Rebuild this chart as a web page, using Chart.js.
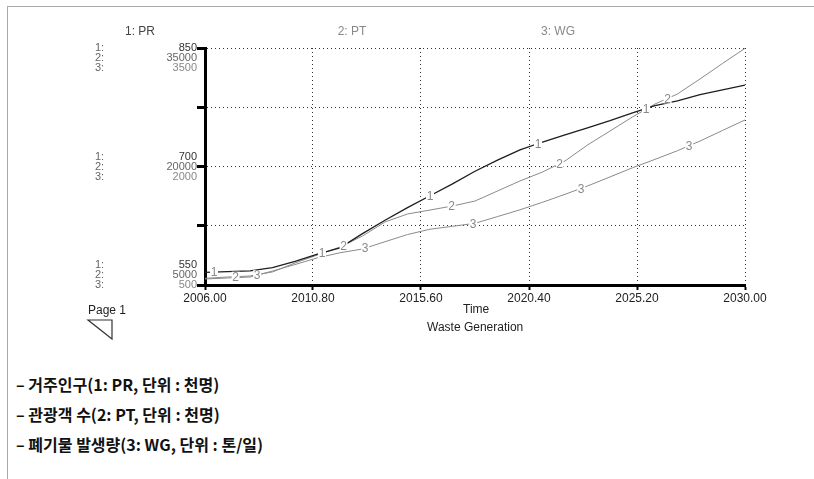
<!DOCTYPE html>
<html>
<head>
<meta charset="utf-8">
<script src="https://cdn.jsdelivr.net/npm/chart.js@4.4.1/dist/chart.umd.min.js"></script>
<style>
  body { margin: 0; background: #fff; width: 814px; height: 479px; position: relative; overflow: hidden; font-family: "Liberation Sans", Arial, sans-serif; }
  .frame { position: absolute; left: 7px; top: 6px; right: 0; bottom: 0; border-left: 1px solid #aaa; border-top: 1px solid #aaa; }
  .txt { position: absolute; font-size: 12px; white-space: nowrap; }
  .head { top: 24px; transform: translateX(-50%); }
  .legend { position: absolute; left: 16px; font-family: "Noto Sans CJK KR", sans-serif; font-weight: bold; font-size: 16px; color: #111; white-space: nowrap; }
  #wrap { position: absolute; left: 0; top: 0; width: 814px; height: 340px; }
</style>
</head>
<body>
<div class="frame"></div>
<div id="wrap"><canvas id="chart"></canvas></div>

<div class="txt head" style="left:140px;color:#444">1: PR</div>
<div class="txt head" style="left:352px;color:#888">2: PT</div>
<div class="txt head" style="left:558px;color:#888">3: WG</div>

<div class="txt" style="left:463px;top:302px;color:#222">Time</div>
<div class="txt" style="left:427px;top:320px;color:#222">Waste Generation</div>

<div class="txt" style="left:88px;top:303px;color:#222">Page 1</div>
<svg style="position:absolute;left:86px;top:318px" width="30" height="24">
  <polygon points="2,2 26,2 26,21" fill="none" stroke="#333" stroke-width="1.2"/>
</svg>

<div class="legend" style="top:372px">– 거주인구(1: PR, 단위 : 천명)</div>
<div class="legend" style="top:402px">– 관광객 수(2: PT, 단위 : 천명)</div>
<div class="legend" style="top:432px">– 폐기물 발생량(3: WG, 단위 : 톤/일)</div>

<script>
const years = [2006, 2007, 2008, 2009, 2010, 2011, 2012, 2013, 2014, 2015, 2016, 2017,
  2018, 2019, 2020, 2021, 2022, 2023, 2024, 2025, 2026, 2027, 2028, 2029, 2030];

// 1: PR 거주인구 (천명)
const prValues = [566, 567, 568, 572, 580, 589, 597, 615, 632, 648, 663, 678,
  694, 708, 721, 731, 740, 749, 758, 768, 777, 783, 791, 797, 803];
// 2: PT 관광객 수 (천명)
const ptValues = [5850, 6010, 6140, 6650, 7790, 8800, 9810, 11200, 12980, 13990, 14490, 15000,
  15630, 16900, 18170, 19300, 20700, 22720, 24490, 26270, 27910, 29180, 31080, 33040, 34960];
// 3: WG 폐기물 발생량 (톤/일)
const wgValues = [576, 589, 601, 677, 759, 844, 908, 956, 1048, 1139, 1206, 1243,
  1281, 1366, 1452, 1547, 1648, 1753, 1868, 1984, 2090, 2200, 2322, 2456, 2589];

const xTicks = [2006, 2010.8, 2015.6, 2020.4, 2025.2, 2030];
const prRange = [550, 850];
const ptRange = [5000, 35000];
const wgRange = [500, 3500];

const series = [
  { label: '1', values: prValues, axis: 'y', color: '#1e1e1e', width: 1.3 },
  { label: '2', values: ptValues, axis: 'y2', color: '#8a8a8a', width: 1 },
  { label: '3', values: wgValues, axis: 'y3', color: '#8a8a8a', width: 1 }
];

function valueAt(values, t) {
  for (let i = 0; i < years.length - 1; i++) {
    if (t >= years[i] && t <= years[i + 1]) {
      const k = (t - years[i]) / (years[i + 1] - years[i]);
      return values[i] + k * (values[i + 1] - values[i]);
    }
  }
  return values[values.length - 1];
}

// numbers written on the lines, like the Stella graph
const lineLabels = {
  id: 'lineLabels',
  afterDatasetsDraw(chart) {
    const ctx = chart.ctx;
    const xs = chart.scales.x;
    ctx.save();
    ctx.font = '12px "Liberation Sans", Arial';
    ctx.textAlign = 'center';
    ctx.textBaseline = 'middle';
    series.forEach((s, i) => {
      const ys = chart.scales[s.axis];
      for (let t = 2006.4 + i * 0.96; t < 2030; t += 4.8) {
        const px = xs.getPixelForValue(t);
        const py = ys.getPixelForValue(valueAt(s.values, t));
        ctx.fillStyle = '#fff';
        ctx.fillRect(px - 4, py - 5, 8, 10);
        ctx.fillStyle = '#888';
        ctx.fillText(s.label, px, py + 1);
      }
    });
    ctx.restore();
  }
};

// stacked value labels on the left axis
const axisLabels = {
  id: 'axisLabels',
  afterDraw(chart) {
    const ctx = chart.ctx;
    const y1 = chart.scales.y;
    const ranges = [prRange, ptRange, wgRange];
    const colors = ['#333', '#666', '#888'];
    ctx.save();
    ctx.font = '11px "Liberation Sans", Arial';
    ctx.textBaseline = 'middle';
    const rows = [
      { py: y1.getPixelForValue(prRange[1]), shift: 0, pick: r => r[1] },
      { py: y1.getPixelForValue((prRange[0] + prRange[1]) / 2), shift: -10, pick: r => (r[0] + r[1]) / 2 },
      { py: y1.getPixelForValue(prRange[0]), shift: -20, pick: r => r[0] }
    ];
    rows.forEach(row => {
      ranges.forEach((r, k) => {
        const py = row.py + row.shift + k * 10;
        ctx.fillStyle = '#666';
        ctx.textAlign = 'left';
        ctx.fillText((k + 1) + ':', 95, py);
        ctx.fillStyle = colors[k];
        ctx.textAlign = 'right';
        ctx.fillText(String(row.pick(r)), 197, py);
      });
    });
    ctx.restore();
  }
};

const dotted = { display: true, color: '#000', width: 3, dash: [1, 3] };

new Chart(document.getElementById('chart'), {
  type: 'line',
  data: {
    datasets: series.map(s => ({
      label: s.label,
      data: years.map((t, i) => ({ x: t, y: s.values[i] })),
      yAxisID: s.axis,
      borderColor: s.color,
      borderWidth: s.width,
      pointRadius: 0,
      tension: 0,
      fill: false
    }))
  },
  options: {
    responsive: true,
    maintainAspectRatio: false,
    animation: false,
    layout: { padding: { left: 0, top: 48, right: 69, bottom: 25 } },
    plugins: { legend: { display: false }, tooltip: { enabled: false } },
    scales: {
      x: {
        type: 'linear',
        min: 2006,
        max: 2030,
        afterBuildTicks: scale => { scale.ticks = xTicks.map(v => ({ value: v })); },
        afterFit: scale => { scale.height = 30; },
        ticks: {
          autoSkip: false,
          maxRotation: 0,
          padding: 1,
          color: '#222',
          font: { family: '"Liberation Sans", Arial', size: 12 },
          callback: v => Number(v).toFixed(2)
        },
        grid: { color: '#333', lineWidth: 1, tickLength: 5, tickWidth: 2, tickColor: '#000' },
        border: dotted
      },
      y: {
        type: 'linear',
        position: 'left',
        min: prRange[0],
        max: prRange[1],
        afterBuildTicks: scale => {
          const step = (prRange[1] - prRange[0]) / 4;
          scale.ticks = [0, 1, 2, 3, 4].map(k => ({ value: prRange[0] + k * step }));
        },
        afterFit: scale => { scale.width = 205; },
        ticks: { display: false },
        grid: { color: '#333', lineWidth: 1, tickLength: 8, tickWidth: 3, tickColor: '#000' },
        border: dotted
      },
      y2: { type: 'linear', display: false, min: ptRange[0], max: ptRange[1] },
      y3: { type: 'linear', display: false, min: wgRange[0], max: wgRange[1] }
    }
  },
  plugins: [lineLabels, axisLabels]
});
</script>
</body>
</html>
